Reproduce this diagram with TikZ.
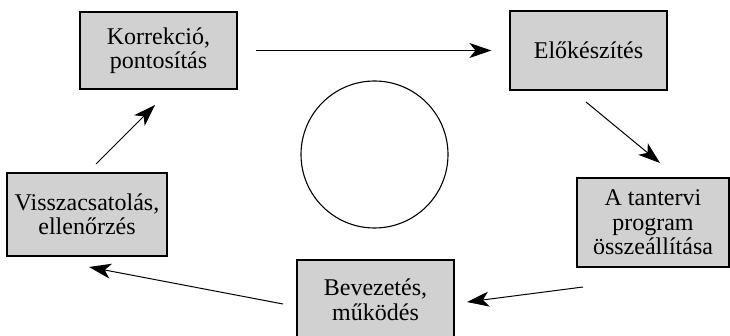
\documentclass[tikz,border=0pt]{standalone}
\usepackage{fontspec}
\setmainfont{Liberation Serif}
\usetikzlibrary{arrows.meta}

\tikzset{every picture/.style={line width=0.75pt}}
\tikzset{
  stage/.style={draw, fill=black!18, line width=1.2pt, align=center, inner sep=0pt,
    font=\fontsize{24}{24.5}\selectfont},
  flow/.style={-{Stealth[length=22pt,width=15pt,inset=6pt]}, line width=1pt}
}

\begin{document}
\begin{tikzpicture}[x=1pt,y=1pt,yscale=-1,xscale=1]
	%set diagram left start at 0, and has height of 336
	\useasboundingbox (0,0) rectangle (730,336);
	
	% Stage Nodes
	\node [stage, minimum width=157pt, minimum height=77pt] (korr) at (158.5,50.5) {Korrekció,\\pontosítás};
	% Stage Nodes
	\node [stage, minimum width=157pt, minimum height=79pt] (elok) at (588.5,50.5) {Előkészítés};
	% Stage Nodes
	\node [stage, minimum width=152pt, minimum height=89pt] (prog) at (653,222.5) {A tantervi\\program\\összeállítása};
	% Stage Nodes
	\node [stage, minimum width=157pt, minimum height=80pt] (bevez) at (375.5,300) {Bevezetés,\\működés};
	% Stage Nodes
	\node [stage, minimum width=160pt, minimum height=83pt] (vissza) at (87,214.5) {Visszacsatolás,\\ellenőrzés};
	
	%Shape: Circle
	\node [draw, circle, line width=1.1pt, minimum size=147pt, inner sep=0pt] (kor) at (374.5,154.5) {};
	
	%Arrow ends
	\coordinate (a1) at (586,102);
	\coordinate (a2) at (660,163);
	\coordinate (b1) at (583,287);
	\coordinate (b2) at (467,302);
	\coordinate (c1) at (283,304);
	\coordinate (c2) at (89,267);
	\coordinate (d1) at (96,164);
	\coordinate (d2) at (155,105);
	
	%Straight Lines
	\draw [flow, shorten <=18pt, shorten >=18pt] (korr) -- (elok);
	%Straight Lines
	\draw [flow] (a1) -- (a2);
	%Straight Lines
	\draw [flow] (b1) -- (b2);
	%Straight Lines
	\draw [flow] (c1) -- (c2);
	%Straight Lines
	\draw [flow] (d1) -- (d2);
	
\end{tikzpicture}
\end{document}
